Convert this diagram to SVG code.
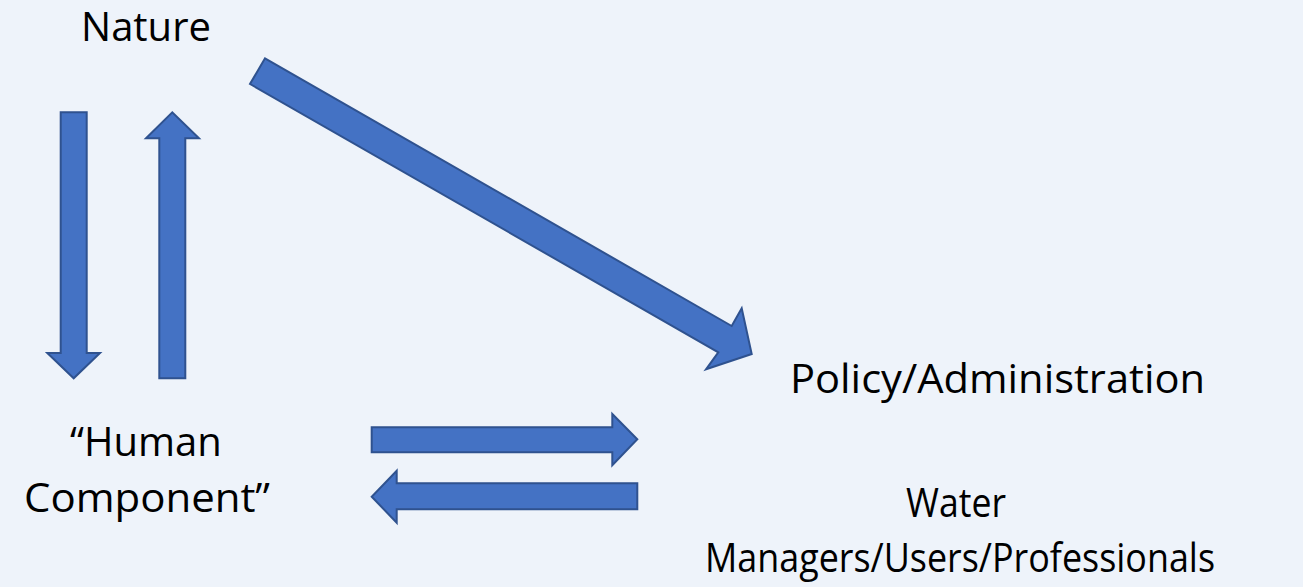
<svg xmlns="http://www.w3.org/2000/svg" width="1303" height="587" viewBox="0 0 1303 587">
<style>
.lbl{font-family:"Open Sans","Noto Sans","Liberation Sans",sans-serif;font-size:40px;fill:#000;text-anchor:middle}
.arr{fill:#4472C4;stroke:#2F528F;stroke-width:2;stroke-linejoin:miter}
</style>
<rect width="1303" height="587" fill="#EEF3FA"/>
<g id="nature"><text class="lbl" x="146" y="40.5">Nature</text></g>
<g id="policy"><text class="lbl" x="997.5" y="392.5" textLength="415" lengthAdjust="spacingAndGlyphs">Policy/Administration</text></g>
<g id="human"><text class="lbl"><tspan x="146" y="455.5">“Human</tspan></text><text class="lbl" x="147" y="511.5" textLength="246" lengthAdjust="spacingAndGlyphs">Component”</text></g>
<g id="water"><text class="lbl" x="956" y="517" textLength="100" lengthAdjust="spacingAndGlyphs">Water</text><text class="lbl" x="960" y="571.5" textLength="510" lengthAdjust="spacingAndGlyphs">Managers/Users/Professionals</text></g>
<g id="connectors">
<polygon class="arr" points="60.7,112.3 86.7,112.3 86.7,353 100,353 73.7,378.3 47.3,353 60.7,353"/>
<polygon class="arr" points="159.3,378.3 185.3,378.3 185.3,138.3 199,138.3 172.3,112.3 146,138.3 159.3,138.3"/>
<polygon class="arr" points="265,58.3 731.7,326 741.7,308.3 751.7,354 706,369.3 718.3,352.3 250,84"/>
<polygon class="arr" points="371.7,427.3 612.3,427.3 612.3,414 637.3,439.3 612.3,465.3 612.3,452.3 371.7,452.3"/>
<polygon class="arr" points="637.3,483.3 396.7,483.3 396.7,470.7 371.7,496.7 396.7,522.7 396.7,509.3 637.3,509.3"/>
</g>
</svg>
